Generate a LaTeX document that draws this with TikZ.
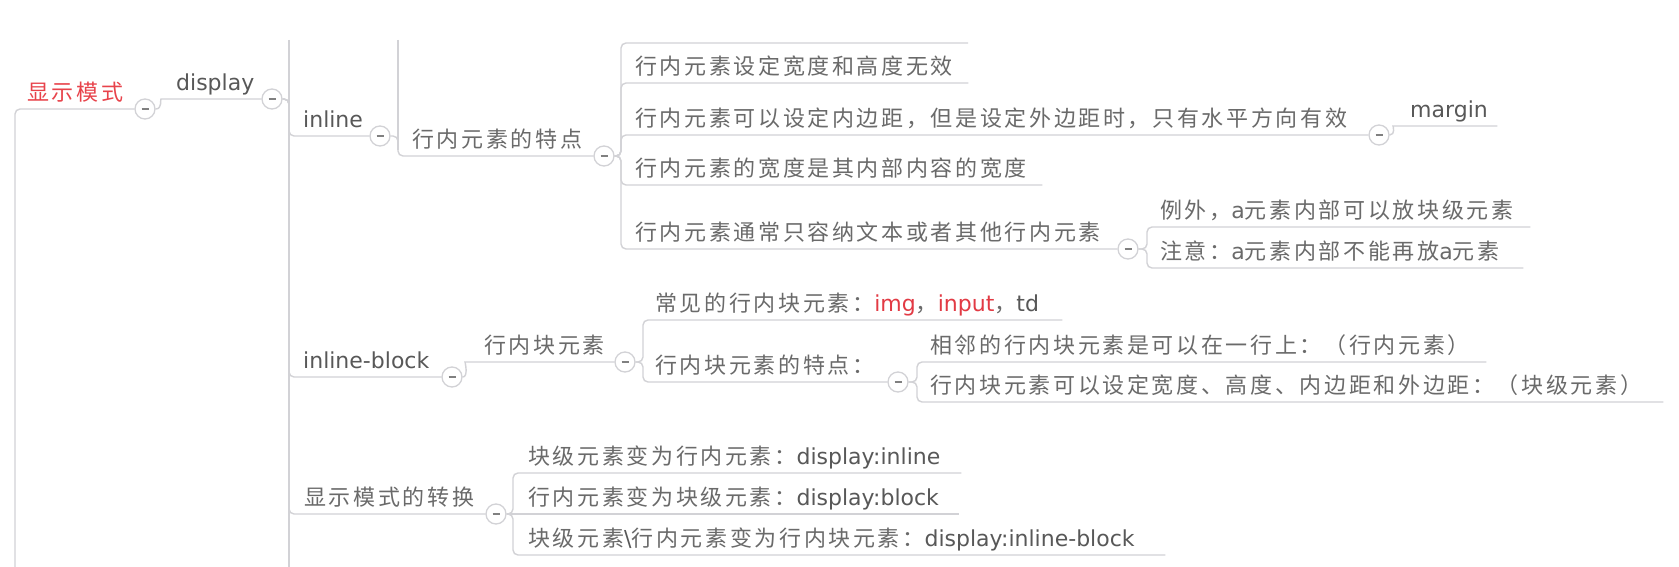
\documentclass[tikz,border=0pt]{standalone}
\usepackage{fontspec}
\setmainfont{Noto Sans CJK SC}[LetterSpace=12]
\newfontfamily\lat{DejaVu Sans}
\usetikzlibrary{calc}
\definecolor{ln}{HTML}{D2D2D6}
\definecolor{txt}{HTML}{6A6A6A}
\definecolor{ltxt}{HTML}{585858}
\definecolor{rootred}{HTML}{E8434B}
\definecolor{hl}{HTML}{E23A44}
\definecolor{minusc}{HTML}{808080}
\newcommand\mmtopic[3]{\makebox[#1pt][l]{\hspace*{#2pt}#3}}
\newcommand\la[1]{{\lat #1}}
\tikzset{
 topic/.style={anchor=south west, inner sep=0pt, text height=17pt, text depth=8pt, text=txt, font=\fontsize{22}{26}\selectfont},
 conn/.style={draw=ln, line width=1.4pt, rounded corners=5pt},
 circ/.style={circle, draw=ln, fill=white, line width=1.3pt, minimum size=20pt, inner sep=0pt,
   path picture={\draw[minusc, line width=1.4pt] ([xshift=-3.5pt]path picture bounding box.center) -- ([xshift=3.5pt]path picture bounding box.center);}},
}
\begin{document}
\begin{tikzpicture}[x=1pt,y=-1pt]
\fill[white] (0,0) rectangle (1679,567);
\useasboundingbox (0,0) rectangle (1679,567);

% ---------- nodes ----------
\node[topic, text=rootred] (root) at (15,109) {\mmtopic{120}{12}{显示模式}};
\node[circ] (c0) at (145,109) {};
\node[topic, text=ltxt] (disp) at (166,99) {\mmtopic{96}{10}{\la{display}}};
\node[circ] (c1) at (272,99) {};

\node[topic, text=ltxt] (inl) at (289,136) {\mmtopic{81}{14}{\la{inline}}};
\node[circ] (c2) at (380,136) {};
\node[topic] (inltr) at (398,156) {\mmtopic{196}{14}{行内元素的特点}};
\node[circ] (c3) at (604,156) {};

\node[topic] (t1) at (621,83) {\mmtopic{347}{14}{行内元素设定宽度和高度无效}};
\node[topic] (t2) at (621,135) {\mmtopic{748}{14}{行内元素可以设定内边距，但是设定外边距时，只有水平方向有效}};
\node[circ] (c4) at (1379,135) {};
\node[topic, text=ltxt] (mg) at (1398,126) {\mmtopic{99}{12}{\la{margin}}};
\node[topic] (t3) at (621,185) {\mmtopic{421}{14}{行内元素的宽度是其内部内容的宽度}};
\node[topic] (t4) at (621,249) {\mmtopic{497}{14}{行内元素通常只容纳文本或者其他行内元素}};
\node[circ] (c5) at (1128,249) {};
\node[topic] (e1) at (1147,227) {\mmtopic{383}{13}{例外，\la{a}元素内部可以放块级元素}};
\node[topic] (e2) at (1147,268) {\mmtopic{376}{13}{注意：\la{a}元素内部不能再放\la{a}元素}};

\node[topic, text=ltxt] (ib) at (289,377) {\mmtopic{153}{14}{\la{inline-block}}};
\node[circ] (c6) at (452,377) {};
\node[topic] (ibe) at (470,362) {\mmtopic{145}{14}{行内块元素}};
\node[circ] (c7) at (625,362) {};
\node[topic] (cj) at (643,320) {\mmtopic{419}{12}{常见的行内块元素：{\color{hl}\la{img}}，{\color{hl}\la{input}}，{\color{ltxt}\la{td}}}};
\node[topic] (ibt) at (643,382) {\mmtopic{245}{12}{行内块元素的特点：}};
\node[circ] (c8) at (898,382) {};
\node[topic] (x1) at (917,362) {\mmtopic{569}{13}{相邻的行内块元素是可以在一行上：（行内元素）}};
\node[topic] (x2) at (917,402) {\mmtopic{746}{13}{行内块元素可以设定宽度、高度、内边距和外边距：（块级元素）}};

\node[topic] (cv) at (289,514) {\mmtopic{197}{15}{显示模式的转换}};
\node[circ] (c9) at (496,514) {};
\node[topic] (v1) at (513,473) {\mmtopic{448}{15}{块级元素变为行内元素：{\color{ltxt}\la{display:inline}}}};
\node[topic] (v2) at (513,514) {\mmtopic{446}{15}{行内元素变为块级元素：{\color{ltxt}\la{display:block}}}};
\node[topic] (v3) at (513,555) {\mmtopic{652}{15}{块级元素{\color{ltxt}\la{\textbackslash}}行内元素变为行内块元素：{\color{ltxt}\la{display:inline-block}}}};

% ---------- connectors ----------
\coordinate (rootdn) at (15,575);
\draw[conn] (c0.west) -- (root.south west) -- (rootdn);
\draw[conn] (c0.east) .. controls +(7,0) and +(-6,0) .. (disp.south west) -- (c1.west);

\coordinate (dtop) at (289,40); \coordinate (dbot) at (289,575);
\draw[conn] (dtop) -- (dbot);
\draw[conn] (c1.east) -- (c1.east -| inl.south west) |- (c2.west);
\draw[conn] (c1.east) -- (c1.east -| ib.south west) |- (c6.west);
\draw[conn] (c1.east) -- (c1.east -| cv.south west) |- (c9.west);

\coordinate (itop) at (398,40); \coordinate (imid) at (398,150);
\draw[conn] (itop) -- (imid);
\draw[conn] (c2.east) -- (c2.east -| inltr.south west) |- (c3.west);

\coordinate (hidA) at (621,43); \coordinate (hidB) at (968,43);
\draw[conn] (c3.east) -- (c3.east -| hidA) |- (hidB);
\draw[conn] (c3.east) -- (c3.east -| t1.south west) |- (t1.south east);
\draw[conn] (c3.east) -- (c3.east -| t2.south west) |- (c4.west);
\draw[conn] (c3.east) -- (c3.east -| t3.south west) |- (t3.south east);
\draw[conn] (c3.east) -- (c3.east -| t4.south west) |- (c5.west);
\draw[conn] (c4.east) .. controls +(6,0) and +(-5,0) .. (mg.south west) -- (mg.south east);
\draw[conn] (c5.east) -- (c5.east -| e1.south west) |- (e1.south east);
\draw[conn] (c5.east) -- (c5.east -| e2.south west) |- (e2.south east);

\draw[conn] (c6.east) .. controls +(6,0) and +(-5,0) .. (ibe.south west) -- (c7.west);
\draw[conn] (c7.east) -- (c7.east -| cj.south west) |- (cj.south east);
\draw[conn] (c7.east) -- (c7.east -| ibt.south west) |- (c8.west);
\draw[conn] (c8.east) -- (c8.east -| x1.south west) |- (x1.south east);
\draw[conn] (c8.east) -- (c8.east -| x2.south west) |- (x2.south east);

\draw[conn] (c9.east) -- (c9.east -| v1.south west) |- (v1.south east);
\draw[conn] (c9.east) -- (v2.south west) -- (v2.south east);
\draw[conn] (c9.east) -- (c9.east -| v3.south west) |- (v3.south east);
\end{tikzpicture}
\end{document}
